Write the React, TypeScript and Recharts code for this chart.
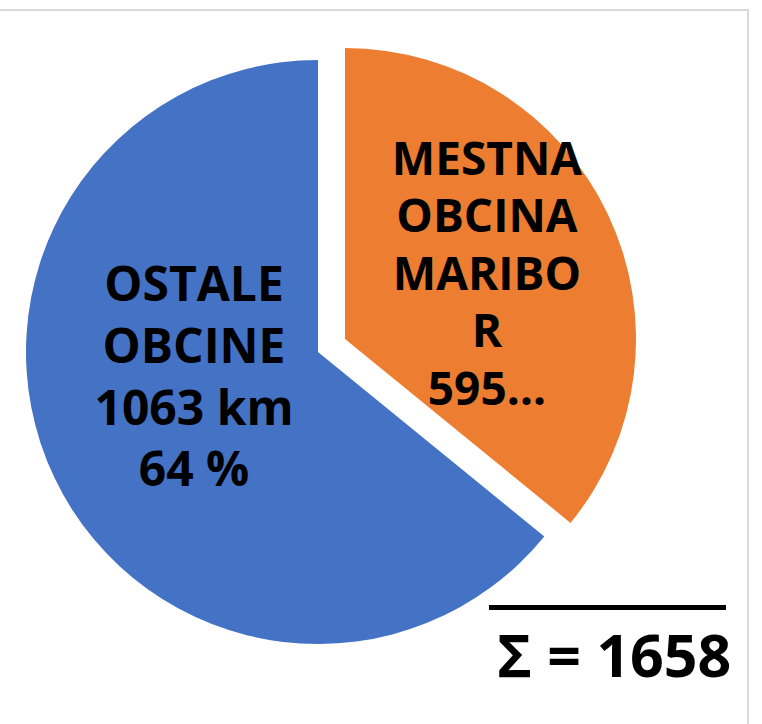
import { PieChart, Pie, Cell } from 'recharts';

const categories = ['MESTNA OBCINA MARIBOR', 'OSTALE OBCINE'];
const lengthsKm = [595, 1063];
// label text as wrapped in the original (the Maribor value is cut off there)
const labelLines = [
  ['MESTNA', 'OBCINA', 'MARIBO', 'R', '595…'],
  ['OSTALE', 'OBCINE', '1063 km', '64 %'],
];

const COLORS = ['#ED7D31', '#4472C4'];
const FONT = '"Open Sans", "Noto Sans", "DejaVu Sans", sans-serif';
const RADIAN = Math.PI / 180;

const data = categories.map((name, i) => ({ name, value: lengthsKm[i] }));
const total = lengthsKm.reduce((a, b) => a + b, 0);

// per-slice label placement tweaks
const labelCfg = [
  { f: 0.54, nudgeX: 0, nudgeY: 0, lineH: 57.5, size: 46 },
  { f: 0.47, nudgeX: 0, nudgeY: -36, lineH: 61.7, size: 48 },
];

function makeLabel(visible: number) {
  return (props: any) => {
    const { cx, cy, midAngle, outerRadius, index } = props;
    if (index !== visible) return null;
    const cfg = labelCfg[index];
    const r = outerRadius * cfg.f;
    const x = cx + r * Math.cos(-midAngle * RADIAN) + cfg.nudgeX;
    const y = cy + r * Math.sin(-midAngle * RADIAN) + cfg.nudgeY;
    const lines = labelLines[index];
    const firstY = y - ((lines.length - 1) * cfg.lineH) / 2;
    return (
      <text
        x={x}
        y={firstY}
        textAnchor="middle"
        dominantBaseline="central"
        fill="#000"
        fontFamily={FONT}
        fontWeight={700}
        fontSize={cfg.size}
      >
        {lines.map((l, i) => (
          <tspan key={i} x={x} y={firstY + i * cfg.lineH}>
            {l}
          </tspan>
        ))}
      </text>
    );
  };
}

export default function App() {
  return (
    <div style={{ position: 'absolute', left: 0, top: 0, width: 762, height: 724, background: '#fff', overflow: 'hidden' }}>
      <div
        style={{
          position: 'absolute', left: -2, top: 9, width: 751, height: 740,
          border: '2px solid #d9d9d9', boxSizing: 'border-box',
        }}
      />
      <div style={{ position: 'absolute', left: 0, top: 0 }}>
        <PieChart width={762} height={724} margin={{ top: 0, right: 0, bottom: 0, left: 0 }}>
          {/* exploded slice (Maribor) */}
          <Pie
            data={data}
            dataKey="value"
            cx={345}
            cy={339}
            outerRadius={291}
            startAngle={90}
            endAngle={-270}
            stroke="none"
            labelLine={false}
            label={makeLabel(0)}
            isAnimationActive={false}
          >
            {data.map((_, i) => (
              <Cell key={i} fill={i === 0 ? COLORS[0] : 'transparent'} />
            ))}
          </Pie>
          <Pie
            data={data}
            dataKey="value"
            cx={318}
            cy={352}
            outerRadius={292}
            startAngle={90}
            endAngle={-270}
            stroke="none"
            labelLine={false}
            label={makeLabel(1)}
            isAnimationActive={false}
          >
            {data.map((_, i) => (
              <Cell key={i} fill={i === 1 ? COLORS[1] : 'transparent'} />
            ))}
          </Pie>
        </PieChart>
      </div>
      <div style={{ position: 'absolute', left: 489, top: 605, width: 237, height: 5, background: '#000' }} />
      <div
        style={{
          position: 'absolute', left: 489, top: 614, width: 250,
          fontFamily: FONT, fontWeight: 700, fontSize: 59, lineHeight: '80px',
          color: '#000', whiteSpace: 'nowrap', paddingLeft: 8,
        }}
      >
        Σ = {total}
      </div>
    </div>
  );
}
